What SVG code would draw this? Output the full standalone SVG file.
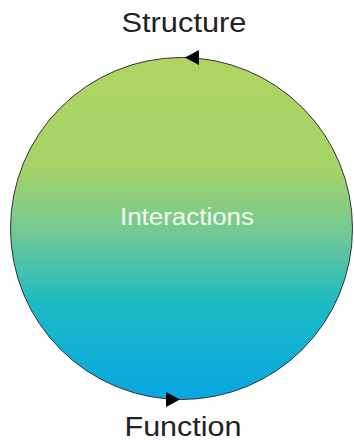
<svg xmlns="http://www.w3.org/2000/svg" width="354" height="441" viewBox="0 0 354 441">
<style>
.lbl{font-family:"Liberation Sans",Arial,sans-serif;font-size:27px;fill:#222;text-anchor:middle}
.inner{font-family:"Liberation Sans",Arial,sans-serif;font-size:23px;fill:#f4fbef;text-anchor:middle}
.ring{stroke:#333;stroke-width:1;fill:url(#g)}
</style>
<defs>
<linearGradient id="g" x1="0" y1="0" x2="0" y2="1">
<stop offset="0" stop-color="#b0d463"/>
<stop offset="0.32" stop-color="#a6d466"/>
<stop offset="0.52" stop-color="#70c895"/>
<stop offset="0.72" stop-color="#1cbac4"/>
<stop offset="1" stop-color="#08a6e2"/>
</linearGradient>
</defs>
<rect width="354" height="441" fill="#fff"/>
<g id="cycle">
<circle class="ring" cx="181.5" cy="228.5" r="171"/>
<text class="inner" x="187" y="225" textLength="134" lengthAdjust="spacingAndGlyphs">Interactions</text>
</g>
<g id="connectors">
<polygon points="185,57.5 199,50 199,65" fill="#000"/>
<polygon points="180,399.5 166,392 166,407" fill="#000"/>
</g>
<g id="structure"><text class="lbl" x="184" y="32" textLength="125" lengthAdjust="spacingAndGlyphs">Structure</text></g>
<g id="function"><text class="lbl" x="183" y="436" textLength="117" lengthAdjust="spacingAndGlyphs">Function</text></g>
</svg>
